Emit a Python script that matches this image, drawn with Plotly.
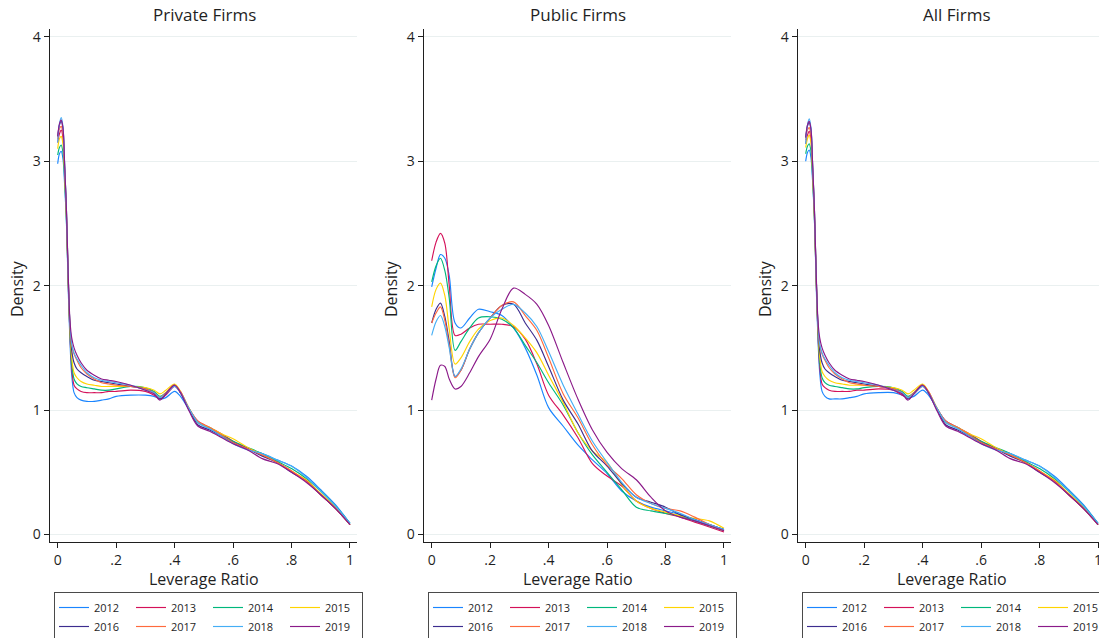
import plotly.graph_objects as go

W, H = 1099, 638

YEARS = [2012, 2013, 2014, 2015, 2016, 2017, 2018, 2019]
COLORS = ["#1A85FF", "#D41159", "#00B77C", "#FFD400", "#3D2D8F", "#FF6A3D", "#45AEF5", "#8B1A89"]
PANEL_TITLES = ["Private Firms", "Public Firms", "All Firms"]
X_TICKVALS = [0, 0.2, 0.4, 0.6, 0.8, 1.0]
X_TICKTEXT = ["0", ".2", ".4", ".6", ".8", "1"]
Y_TICKVALS = [0, 1, 2, 3, 4]

# ---------------- Private firms ----------------
PRIV_X = [0, 0.006, 0.012, 0.018, 0.024, 0.03, 0.036, 0.042, 0.048, 0.056, 0.066, 0.08, 0.1, 0.125,
          0.15, 0.175, 0.2, 0.25, 0.3, 0.33, 0.35, 0.37, 0.4, 0.42, 0.45, 0.48, 0.52, 0.56, 0.6, 0.65,
          0.7, 0.75, 0.8, 0.85, 0.9, 0.95, 1.0]
priv_2012 = [2.98, 3.06, 3.08, 3.02, 2.80, 2.50, 1.98, 1.55, 1.28, 1.14, 1.10, 1.08, 1.07, 1.07, 1.08, 1.09, 1.11, 1.12, 1.12, 1.11, 1.09, 1.10, 1.15, 1.11, 1.00, 0.90, 0.85, 0.80, 0.74, 0.69, 0.65, 0.60, 0.55, 0.47, 0.36, 0.24, 0.09]
priv_2013 = [3.15, 3.22, 3.25, 3.19, 2.90, 2.55, 2.02, 1.60, 1.34, 1.20, 1.17, 1.15, 1.14, 1.14, 1.14, 1.15, 1.15, 1.16, 1.15, 1.12, 1.09, 1.12, 1.19, 1.14, 1.01, 0.91, 0.86, 0.81, 0.75, 0.69, 0.64, 0.58, 0.51, 0.43, 0.32, 0.21, 0.08]
priv_2014 = [3.05, 3.11, 3.13, 3.07, 2.85, 2.52, 2.03, 1.62, 1.38, 1.25, 1.21, 1.19, 1.18, 1.17, 1.16, 1.16, 1.17, 1.19, 1.18, 1.15, 1.11, 1.14, 1.20, 1.14, 1.01, 0.90, 0.86, 0.80, 0.75, 0.70, 0.65, 0.59, 0.53, 0.45, 0.35, 0.23, 0.09]
priv_2015 = [3.10, 3.18, 3.20, 3.14, 2.88, 2.55, 2.05, 1.64, 1.42, 1.30, 1.26, 1.23, 1.21, 1.20, 1.19, 1.19, 1.19, 1.19, 1.18, 1.16, 1.13, 1.16, 1.21, 1.15, 1.01, 0.90, 0.86, 0.81, 0.77, 0.70, 0.64, 0.58, 0.51, 0.44, 0.33, 0.22, 0.08]
priv_2016 = [3.20, 3.29, 3.32, 3.26, 2.95, 2.60, 2.08, 1.68, 1.48, 1.38, 1.33, 1.30, 1.27, 1.24, 1.23, 1.22, 1.21, 1.19, 1.17, 1.14, 1.09, 1.13, 1.20, 1.14, 1.00, 0.88, 0.84, 0.79, 0.74, 0.69, 0.63, 0.58, 0.50, 0.43, 0.32, 0.21, 0.08]
priv_2017 = [3.18, 3.26, 3.28, 3.22, 2.93, 2.58, 2.07, 1.68, 1.52, 1.45, 1.40, 1.34, 1.29, 1.25, 1.22, 1.21, 1.20, 1.19, 1.17, 1.14, 1.10, 1.14, 1.20, 1.15, 1.01, 0.91, 0.86, 0.80, 0.74, 0.69, 0.64, 0.58, 0.51, 0.43, 0.32, 0.21, 0.08]
priv_2018 = [3.15, 3.30, 3.35, 3.28, 2.96, 2.60, 2.08, 1.69, 1.53, 1.46, 1.41, 1.36, 1.30, 1.26, 1.24, 1.23, 1.22, 1.20, 1.16, 1.14, 1.10, 1.13, 1.19, 1.14, 1.01, 0.90, 0.85, 0.79, 0.73, 0.68, 0.65, 0.60, 0.55, 0.46, 0.35, 0.23, 0.09]
priv_2019 = [3.20, 3.30, 3.33, 3.27, 2.96, 2.61, 2.10, 1.72, 1.58, 1.50, 1.44, 1.38, 1.32, 1.28, 1.25, 1.24, 1.23, 1.20, 1.16, 1.13, 1.08, 1.13, 1.20, 1.14, 0.99, 0.87, 0.83, 0.78, 0.73, 0.68, 0.61, 0.57, 0.50, 0.42, 0.32, 0.21, 0.08]

# ---------------- Public firms ----------------
PUB_X = [0, 0.015, 0.03, 0.045, 0.06, 0.08, 0.1, 0.13, 0.16, 0.2, 0.24, 0.28, 0.32, 0.36, 0.4, 0.45,
         0.5, 0.55, 0.6, 0.65, 0.7, 0.75, 0.8, 0.85, 0.9, 0.95, 1.0]
pub_2012 = [1.99, 2.14, 2.25, 2.22, 2.08, 1.70, 1.66, 1.74, 1.81, 1.79, 1.76, 1.66, 1.50, 1.28, 1.02, 0.87, 0.72, 0.60, 0.49, 0.35, 0.27, 0.22, 0.19, 0.16, 0.12, 0.08, 0.04]
pub_2013 = [2.20, 2.35, 2.42, 2.34, 2.00, 1.60, 1.61, 1.66, 1.69, 1.69, 1.69, 1.67, 1.57, 1.37, 1.12, 0.96, 0.78, 0.57, 0.47, 0.39, 0.27, 0.21, 0.17, 0.14, 0.10, 0.06, 0.02]
pub_2014 = [2.03, 2.16, 2.22, 2.12, 1.90, 1.48, 1.55, 1.66, 1.74, 1.75, 1.73, 1.66, 1.52, 1.38, 1.22, 1.04, 0.82, 0.64, 0.50, 0.36, 0.22, 0.19, 0.17, 0.15, 0.11, 0.07, 0.03]
pub_2015 = [1.83, 1.97, 2.02, 1.92, 1.65, 1.37, 1.42, 1.55, 1.65, 1.72, 1.74, 1.68, 1.58, 1.46, 1.28, 1.06, 0.82, 0.67, 0.58, 0.40, 0.27, 0.21, 0.18, 0.15, 0.13, 0.11, 0.05]
pub_2016 = [1.70, 1.81, 1.86, 1.75, 1.55, 1.27, 1.32, 1.49, 1.62, 1.74, 1.84, 1.85, 1.70, 1.56, 1.35, 1.08, 0.89, 0.67, 0.55, 0.41, 0.30, 0.26, 0.22, 0.16, 0.12, 0.08, 0.04]
pub_2017 = [1.70, 1.78, 1.83, 1.72, 1.52, 1.26, 1.32, 1.49, 1.62, 1.74, 1.84, 1.87, 1.76, 1.64, 1.42, 1.13, 0.94, 0.72, 0.56, 0.45, 0.32, 0.25, 0.21, 0.19, 0.14, 0.08, 0.03]
pub_2018 = [1.60, 1.71, 1.76, 1.67, 1.50, 1.27, 1.33, 1.49, 1.62, 1.74, 1.81, 1.85, 1.78, 1.67, 1.47, 1.20, 0.97, 0.75, 0.58, 0.42, 0.30, 0.25, 0.21, 0.17, 0.12, 0.08, 0.04]
pub_2019 = [1.08, 1.25, 1.36, 1.35, 1.25, 1.17, 1.19, 1.30, 1.43, 1.57, 1.81, 1.98, 1.93, 1.85, 1.68, 1.38, 1.09, 0.84, 0.66, 0.53, 0.44, 0.30, 0.19, 0.14, 0.11, 0.07, 0.03]

# ---------------- All firms ----------------
ALL_X = PRIV_X
all_2012 = [3.00, 3.07, 3.09, 3.03, 2.82, 2.52, 2.00, 1.57, 1.30, 1.15, 1.11, 1.09, 1.09, 1.09, 1.10, 1.11, 1.13, 1.14, 1.14, 1.12, 1.10, 1.11, 1.16, 1.12, 1.01, 0.91, 0.86, 0.80, 0.74, 0.69, 0.65, 0.60, 0.55, 0.47, 0.36, 0.24, 0.09]
all_2013 = [3.14, 3.21, 3.24, 3.18, 2.90, 2.55, 2.03, 1.61, 1.35, 1.21, 1.18, 1.16, 1.15, 1.15, 1.15, 1.16, 1.16, 1.17, 1.16, 1.12, 1.10, 1.13, 1.19, 1.14, 1.01, 0.91, 0.86, 0.81, 0.75, 0.69, 0.64, 0.58, 0.51, 0.43, 0.32, 0.21, 0.08]
all_2014 = [3.06, 3.12, 3.14, 3.08, 2.86, 2.53, 2.04, 1.63, 1.39, 1.26, 1.22, 1.20, 1.19, 1.18, 1.17, 1.17, 1.18, 1.19, 1.18, 1.15, 1.11, 1.14, 1.20, 1.14, 1.01, 0.90, 0.86, 0.80, 0.75, 0.70, 0.65, 0.59, 0.53, 0.45, 0.35, 0.23, 0.09]
all_2015 = [3.11, 3.18, 3.21, 3.15, 2.88, 2.55, 2.05, 1.65, 1.43, 1.31, 1.27, 1.24, 1.22, 1.21, 1.20, 1.20, 1.20, 1.19, 1.18, 1.16, 1.13, 1.16, 1.21, 1.15, 1.01, 0.90, 0.86, 0.81, 0.77, 0.70, 0.64, 0.58, 0.51, 0.44, 0.33, 0.22, 0.08]
all_2016 = [3.19, 3.28, 3.31, 3.25, 2.95, 2.60, 2.08, 1.68, 1.48, 1.38, 1.33, 1.30, 1.27, 1.24, 1.23, 1.22, 1.21, 1.19, 1.17, 1.14, 1.09, 1.13, 1.20, 1.14, 1.00, 0.88, 0.84, 0.79, 0.74, 0.69, 0.63, 0.58, 0.50, 0.43, 0.32, 0.21, 0.08]
all_2017 = [3.17, 3.25, 3.27, 3.21, 2.93, 2.58, 2.07, 1.68, 1.52, 1.45, 1.40, 1.34, 1.29, 1.25, 1.22, 1.21, 1.20, 1.19, 1.17, 1.14, 1.10, 1.14, 1.20, 1.15, 1.01, 0.91, 0.86, 0.80, 0.74, 0.69, 0.64, 0.58, 0.51, 0.43, 0.32, 0.21, 0.08]
all_2018 = [3.14, 3.29, 3.34, 3.27, 2.96, 2.60, 2.08, 1.69, 1.53, 1.46, 1.41, 1.36, 1.30, 1.26, 1.24, 1.23, 1.22, 1.20, 1.16, 1.14, 1.10, 1.13, 1.19, 1.14, 1.01, 0.90, 0.85, 0.79, 0.73, 0.68, 0.65, 0.60, 0.55, 0.46, 0.35, 0.23, 0.09]
all_2019 = [3.19, 3.29, 3.32, 3.26, 2.96, 2.61, 2.10, 1.72, 1.58, 1.50, 1.44, 1.38, 1.32, 1.28, 1.25, 1.24, 1.23, 1.20, 1.16, 1.13, 1.08, 1.13, 1.20, 1.14, 0.99, 0.87, 0.83, 0.78, 0.73, 0.68, 0.61, 0.57, 0.50, 0.42, 0.32, 0.21, 0.08]

PANELS = [
    (PRIV_X, [priv_2012, priv_2013, priv_2014, priv_2015, priv_2016, priv_2017, priv_2018, priv_2019]),
    (PUB_X, [pub_2012, pub_2013, pub_2014, pub_2015, pub_2016, pub_2017, pub_2018, pub_2019]),
    (ALL_X, [all_2012, all_2013, all_2014, all_2015, all_2016, all_2017, all_2018, all_2019]),
]

# ---------------- layout geometry (pixels) ----------------
X_DOMAINS_PX = [(49.8, 357.3), (423.8, 731.3), (797.8, 1099.0)]
X_RANGES = [[-0.027, 1.025], [-0.027, 1.025], [-0.027, 1.0034]]
Y_DOMAIN_PX = (29.3, 542.0)
Y_RANGE = [-0.06, 4.06]
TITLE_X_PX = [204, 578.5, 957]
XTITLE_X_PX = [204, 578, 952]
YTITLE_X_PX = [17, 391, 765]
LEGEND_X_PX = [54, 428, 802]

FONT = "Open Sans, Noto Sans, DejaVu Sans, sans-serif"
INK = "#1f1f1f"

fig = go.Figure()
legend_keys = ["legend", "legend2", "legend3"]
for p, (xs, series) in enumerate(PANELS):
    sfx = "" if p == 0 else str(p + 1)
    for i, (yr, ys) in enumerate(zip(YEARS, series)):
        fig.add_trace(go.Scatter(
            x=xs, y=ys, mode="lines", name=str(yr),
            line=dict(color=COLORS[i], width=1.15, shape="spline", smoothing=0.9),
            xaxis="x" + sfx, yaxis="y" + sfx,
            legend=legend_keys[p], legendgroup=f"p{p}g{i % 4}",
            hoverinfo="skip",
        ))

yd = [1 - Y_DOMAIN_PX[1] / H, 1 - Y_DOMAIN_PX[0] / H]
layout = dict(
    width=W, height=H,
    margin=dict(l=0, r=0, t=0, b=0, autoexpand=False),
    paper_bgcolor="white", plot_bgcolor="white",
    font=dict(family=FONT, color=INK),
    showlegend=True,
)
annotations = []
for p in range(3):
    sfx = "" if p == 0 else str(p + 1)
    d0, d1 = X_DOMAINS_PX[p]
    layout["xaxis" + sfx] = dict(
        domain=[d0 / W, d1 / W], range=X_RANGES[p], anchor="y" + sfx,
        tickvals=X_TICKVALS, ticktext=X_TICKTEXT, ticks="outside", ticklen=5,
        tickwidth=1.2, tickcolor=INK, showline=True, linecolor=INK, linewidth=1.3,
        showgrid=False, zeroline=False, tickfont=dict(size=14, color=INK, family=FONT),
        ticklabeloverflow="allow", fixedrange=True,
    )
    layout["yaxis" + sfx] = dict(
        domain=yd, range=Y_RANGE, anchor="x" + sfx,
        tickvals=Y_TICKVALS, ticks="outside", ticklen=5,
        tickwidth=1.2, tickcolor=INK, showline=True, linecolor=INK, linewidth=1.3,
        showgrid=True, gridcolor="#EAF0F0", gridwidth=1, zeroline=False,
        tickfont=dict(size=14, color=INK, family=FONT), ticklabeloverflow="allow",
        fixedrange=True,
    )
    annotations.append(dict(
        text=PANEL_TITLES[p], xref="paper", yref="paper",
        x=TITLE_X_PX[p] / W, y=1 - 15 / H, xanchor="center", yanchor="middle",
        showarrow=False, font=dict(size=17, color=INK, family=FONT)))
    annotations.append(dict(
        text="Leverage Ratio", xref="paper", yref="paper",
        x=XTITLE_X_PX[p] / W, y=1 - 579 / H, xanchor="center", yanchor="middle",
        showarrow=False, font=dict(size=16, color=INK, family=FONT)))
    annotations.append(dict(
        text="Density", xref="paper", yref="paper", textangle=-90,
        x=YTITLE_X_PX[p] / W, y=1 - 289 / H, xanchor="center", yanchor="middle",
        showarrow=False, font=dict(size=16, color=INK, family=FONT)))
    layout[legend_keys[p]] = dict(
        x=LEGEND_X_PX[p] / W, y=1 - 592 / H, xanchor="left", yanchor="top",
        orientation="h", traceorder="grouped", tracegroupgap=0,
        entrywidth=32, entrywidthmode="pixels", itemwidth=30,
        bgcolor="white", bordercolor="#4a4a4a", borderwidth=1,
        font=dict(size=11, color=INK, family=FONT),
        itemclick=False, itemdoubleclick=False,
    )
layout["annotations"] = annotations
fig.update_layout(**layout)

fig.write_html("out.html")
